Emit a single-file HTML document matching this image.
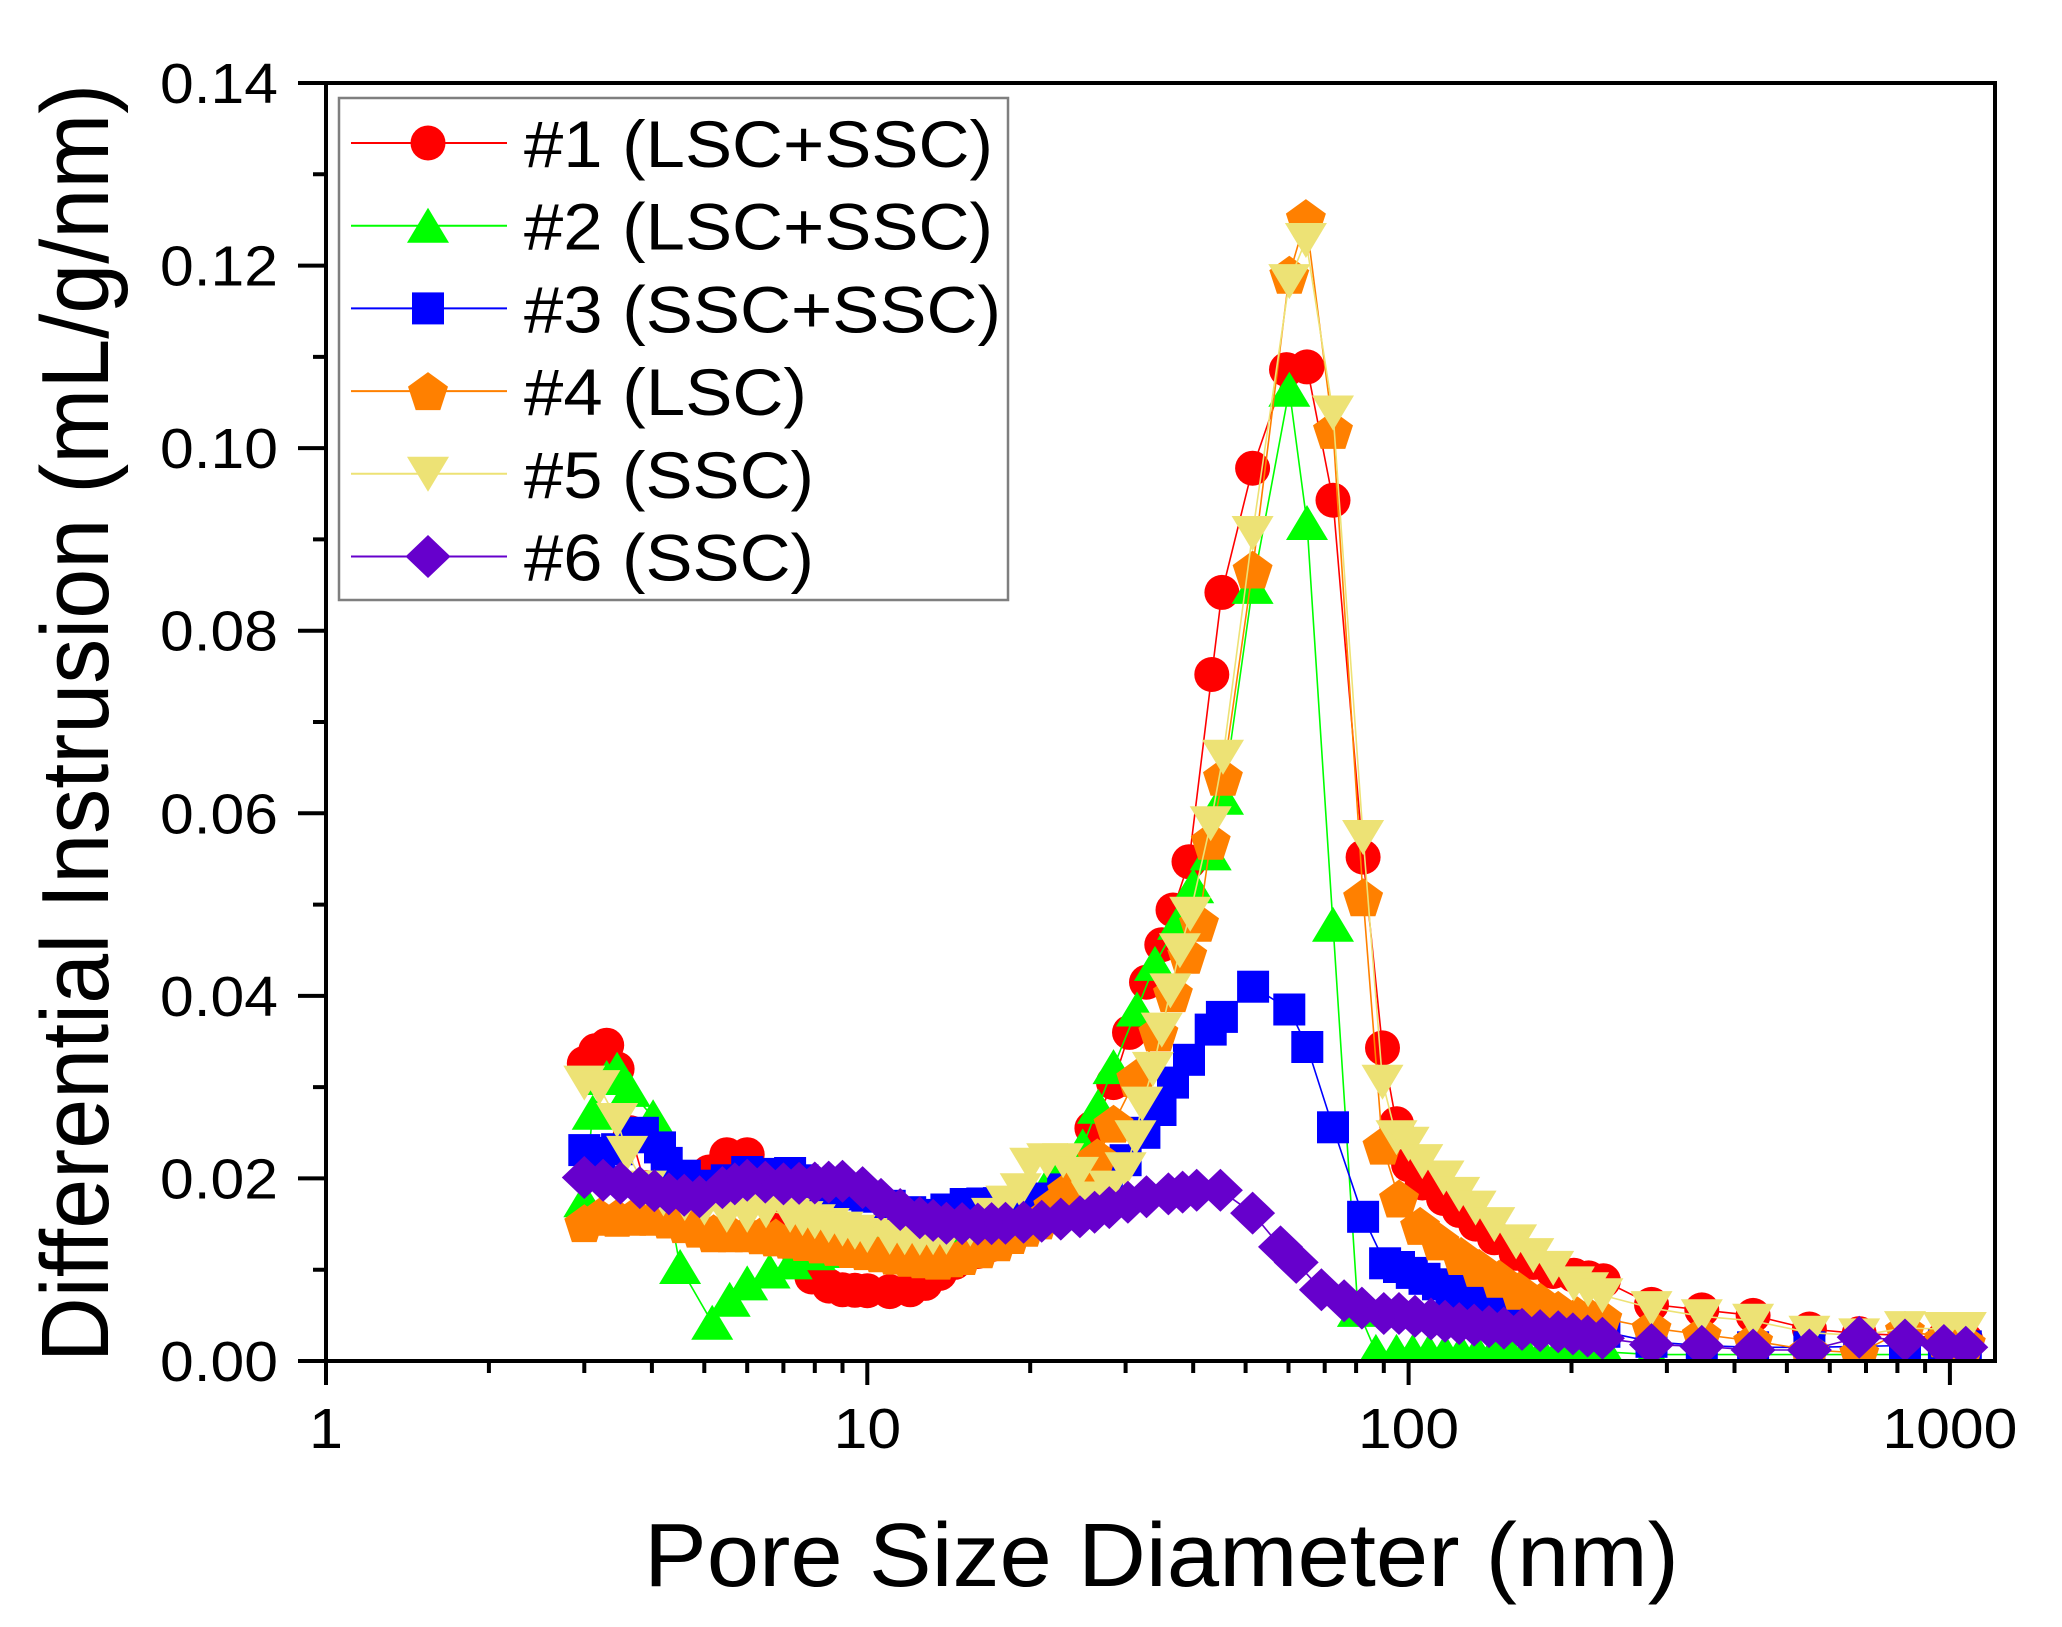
<!DOCTYPE html>
<html><head><meta charset="utf-8"><style>
html,body{margin:0;padding:0;background:#fff;}
svg{display:block;}
text{font-family:"Liberation Sans",Arial,sans-serif;fill:#000;}
</style></head><body>
<svg id="s" width="2062" height="1627" viewBox="0 0 2062 1627" xmlns="http://www.w3.org/2000/svg">
<defs><clipPath id="cp"><rect x="326" y="83" width="1669" height="1278"/></clipPath></defs>
<rect width="2062" height="1627" fill="#fff"/>
<g id="data" clip-path="url(#cp)"></g>

<!-- legend -->
<rect x="339" y="98" width="669" height="502" fill="#fff" stroke="#7f7f7f" stroke-width="2.5"/>
<g id="leg"></g>
<g font-size="66">
<text x="524" y="167" textLength="469" lengthAdjust="spacingAndGlyphs">#1 (LSC+SSC)</text>
<text x="524" y="249.7" textLength="469" lengthAdjust="spacingAndGlyphs">#2 (LSC+SSC)</text>
<text x="524" y="332.4" textLength="477" lengthAdjust="spacingAndGlyphs">#3 (SSC+SSC)</text>
<text x="524" y="415.1" textLength="283" lengthAdjust="spacingAndGlyphs">#4 (LSC)</text>
<text x="524" y="497.8" textLength="290" lengthAdjust="spacingAndGlyphs">#5 (SSC)</text>
<text x="524" y="580.5" textLength="290" lengthAdjust="spacingAndGlyphs">#6 (SSC)</text>
</g>

<!-- axes frame -->
<rect x="326" y="83" width="1669" height="1278" fill="none" stroke="#000" stroke-width="4"/>
<g stroke="#000" stroke-width="4" fill="none">
<path d="M298 1361H326M298 1178.4H326M298 995.9H326M298 813.3H326M298 630.7H326M298 448.1H326M298 265.6H326M298 83H326"/>
<path d="M313 1269.7H326M313 1087.1H326M313 904.6H326M313 722H326M313 539.4H326M313 356.9H326M313 174.3H326"/>
<path d="M326 1361V1385M867.3 1361V1385M1408.6 1361V1385M1949.9 1361V1385"/>
<path d="M488.9 1361V1373M584.3 1361V1373M651.9 1361V1373M704.3 1361V1373M747.2 1361V1373M783.4 1361V1373M814.8 1361V1373M842.5 1361V1373M1030.2 1361V1373M1125.6 1361V1373M1193.2 1361V1373M1245.6 1361V1373M1288.5 1361V1373M1324.7 1361V1373M1356.1 1361V1373M1383.8 1361V1373M1571.5 1361V1373M1666.9 1361V1373M1734.5 1361V1373M1786.9 1361V1373M1829.8 1361V1373M1866 1361V1373M1897.4 1361V1373M1925.1 1361V1373"/>
</g>

<!-- y tick labels -->
<g font-size="57">
<text x="160" y="1381" textLength="118" lengthAdjust="spacingAndGlyphs">0.00</text>
<text x="160" y="1198.4" textLength="118" lengthAdjust="spacingAndGlyphs">0.02</text>
<text x="160" y="1015.9" textLength="118" lengthAdjust="spacingAndGlyphs">0.04</text>
<text x="160" y="833.3" textLength="118" lengthAdjust="spacingAndGlyphs">0.06</text>
<text x="160" y="650.7" textLength="118" lengthAdjust="spacingAndGlyphs">0.08</text>
<text x="160" y="468.1" textLength="118" lengthAdjust="spacingAndGlyphs">0.10</text>
<text x="160" y="285.6" textLength="118" lengthAdjust="spacingAndGlyphs">0.12</text>
<text x="160" y="103" textLength="118" lengthAdjust="spacingAndGlyphs">0.14</text>
<!-- x tick labels -->
<text x="309" y="1448" textLength="34" lengthAdjust="spacingAndGlyphs">1</text>
<text x="833.6" y="1448" textLength="67.5" lengthAdjust="spacingAndGlyphs">10</text>
<text x="1358" y="1448" textLength="101" lengthAdjust="spacingAndGlyphs">100</text>
<text x="1882.4" y="1448" textLength="135" lengthAdjust="spacingAndGlyphs">1000</text>
</g>

<!-- axis titles -->
<text x="644" y="1586" font-size="90" textLength="1035" lengthAdjust="spacingAndGlyphs">Pore Size Diameter (nm)</text>
<text transform="translate(108,723) scale(1.06,1) rotate(-90)" x="0" y="0" font-size="90" text-anchor="middle">Differential Instrusion (mL/g/nm)</text>
</svg>
<script>
(function(){
function X(v){return 326+541.3*Math.log10(v);}
function Y(v){return 1361-9128.6*v;}
function f(n){return n.toFixed(1);}
function shape(t,cx,cy,c){
  switch(t){
    case 'c': return '<circle cx="'+f(cx)+'" cy="'+f(cy)+'" r="17.5" fill="'+c+'"/>';
    case 'tu': return '<polygon points="'+f(cx)+','+f(cy-18)+' '+f(cx+21)+','+f(cy+17)+' '+f(cx-21)+','+f(cy+17)+'" fill="'+c+'"/>';
    case 's': return '<rect x="'+f(cx-16)+'" y="'+f(cy-16)+'" width="32" height="32" fill="'+c+'"/>';
    case 'p': {
      var R=21,p=[];
      for(var k=0;k<5;k++){var a=(-90+72*k)*Math.PI/180;p.push(f(cx+R*Math.cos(a))+','+f(cy+2+R*Math.sin(a)));}
      return '<polygon points="'+p.join(' ')+'" fill="'+c+'"/>';
    }
    case 'td': return '<polygon points="'+f(cx-21)+','+f(cy-17)+' '+f(cx+21)+','+f(cy-17)+' '+f(cx)+','+f(cy+18)+'" fill="'+c+'"/>';
    case 'd': return '<polygon points="'+f(cx)+','+f(cy-21.5)+' '+f(cx+22.5)+','+f(cy)+' '+f(cx)+','+f(cy+21.5)+' '+f(cx-22.5)+','+f(cy)+'" fill="'+c+'"/>';
  }
  return '';
}
function build(anch,ranges){
  var out=[];
  function both(a,b){return ranges.some(function(r){return a>=r[0]&&a<=r[1]&&b>=r[0]&&b<=r[1];});}
  for(var i=0;i<anch.length;i++){
    out.push(anch[i]);
    if(i<anch.length-1){
      var a=anch[i],b=anch[i+1];
      if(both(a[0],b[0])){
        var la=Math.log10(a[0]),lb=Math.log10(b[0]);
        var n=Math.round((lb-la)/0.03)-1;
        for(var k=1;k<=n;k++){var t=k/(n+1);out.push([Math.pow(10,la+t*(lb-la)),a[1]+t*(b[1]-a[1])]);}
      }
    }
  }
  return out;
}
var DEF=[[2.9,41],[94,235]];
var series=[
 {c:'#FF0000',t:'c',r:DEF,d:[[3.0,0.0326],[3.15,0.034],[3.3,0.0346],[3.45,0.032],[3.65,0.025],[3.9,0.019],[4.2,0.0158],[4.5,0.016],[4.8,0.0185],[5.1,0.0207],[5.5,0.0226],[6.0,0.0226],[6.5,0.0195],[6.9,0.0158],[7.5,0.0115],[7.9,0.0092],[8.5,0.0082],[9.0,0.0078],[10,0.0077],[11,0.0076],[12,0.0078],[12.8,0.0085],[13.6,0.0096],[14.5,0.0108],[16,0.012],[18,0.0135],[20,0.0155],[22,0.018],[24,0.0212],[26,0.0255],[28.5,0.0305],[30.5,0.036],[32.8,0.0415],[35,0.0456],[36.7,0.0494],[39.3,0.0547],[43.3,0.0752],[45.2,0.0842],[51.5,0.0978],[59.5,0.1086],[64.9,0.1089],[72.5,0.0943],[82.4,0.0552],[89.5,0.0343],[95,0.026],[100,0.0215],[106,0.0195],[116,0.0178],[124,0.0165],[133,0.015],[144,0.0135],[158,0.0118],[170,0.0108],[185,0.0098],[202,0.0094],[229,0.0088],[281,0.0062],[348,0.0056],[433,0.005],[550,0.0035],[680,0.003],[826,0.0028],[975,0.0025],[1070,0.0023]]},
 {c:'#00FF00',t:'tu',r:[[6.5,41],[86,235]],d:[[3.0,0.0176],[3.11,0.0272],[3.3,0.031],[3.45,0.0319],[3.64,0.0297],[4.02,0.0267],[4.51,0.0103],[5.17,0.0042],[5.57,0.0067],[6.0,0.0085],[6.6,0.0098],[7.25,0.0108],[8,0.0118],[9,0.0123],[10,0.0125],[12,0.013],[14,0.0138],[16,0.015],[18,0.0165],[20,0.018],[22,0.0203],[25,0.0235],[28.5,0.0322],[31.5,0.0385],[34,0.0435],[37.5,0.048],[40,0.052],[43.1,0.0556],[45.4,0.0617],[51.5,0.0848],[60.2,0.1064],[64.9,0.0918],[72.5,0.0478],[80.6,0.0056],[87,0.001],[95,0.001],[232,0.001],[281,0.0007],[348,0.0007],[433,0.0007],[550,0.0007],[680,0.0007],[826,0.0007],[975,0.0007],[1070,0.0007]]},
 {c:'#0000FF',t:'s',r:DEF,d:[[3.0,0.0231],[3.2,0.0228],[3.45,0.0232],[3.65,0.0245],[3.85,0.025],[4.14,0.0234],[4.26,0.0217],[4.6,0.0203],[5.0,0.0192],[5.5,0.0198],[6.0,0.0207],[6.5,0.0205],[7.2,0.0206],[8,0.019],[9,0.0185],[10,0.018],[11,0.017],[12,0.0163],[13,0.016],[14,0.0166],[15.2,0.0172],[17.5,0.0173],[19,0.0172],[21,0.0178],[23,0.0188],[25.8,0.019],[27.7,0.0195],[30,0.022],[32.5,0.025],[34.8,0.0275],[36.7,0.0305],[39.3,0.033],[43.1,0.0363],[45.2,0.0377],[51.6,0.041],[60.2,0.0385],[65,0.0344],[72.5,0.0256],[82.4,0.0158],[90.5,0.0107],[96,0.0103],[107,0.009],[120,0.0078],[135,0.0068],[150,0.006],[170,0.0053],[190,0.0047],[205,0.0043],[230,0.0032],[281,0.0021],[348,0.0017],[433,0.0015],[550,0.0015],[680,0.0016],[826,0.0017],[975,0.0017],[1070,0.0016]]},
 {c:'#FF8000',t:'p',r:DEF,d:[[3.0,0.0151],[3.2,0.0158],[3.45,0.0157],[3.7,0.0158],[4.0,0.0158],[4.3,0.0155],[4.6,0.015],[5.2,0.014],[6.0,0.014],[7.2,0.0133],[8.8,0.0125],[10.6,0.0118],[12,0.0113],[13.5,0.011],[15,0.0115],[17.4,0.013],[20.8,0.0154],[23.4,0.0187],[26.6,0.0223],[28.5,0.026],[31.4,0.031],[34.5,0.036],[36.7,0.0403],[39,0.0445],[41,0.048],[43.1,0.057],[45.4,0.064],[51.5,0.0867],[60.2,0.119],[64.6,0.1252],[72.5,0.102],[82.4,0.0508],[89.5,0.0236],[96,0.0178],[105,0.0148],[114,0.0131],[125,0.0115],[135,0.0102],[147,0.009],[160,0.0077],[175,0.0065],[189,0.0056],[205,0.005],[228,0.0047],[281,0.0036],[348,0.0029],[433,0.0022],[550,0.0012],[680,0.0009],[826,0.0034],[975,0.0025],[1070,0.002]]},
 {c:'#EDE275',t:'td',r:DEF,d:[[3.0,0.0305],[3.2,0.030],[3.45,0.0264],[3.6,0.0228],[3.9,0.019],[4.2,0.0178],[4.6,0.0173],[5.0,0.0168],[5.5,0.016],[6.0,0.016],[6.5,0.0165],[7.2,0.016],[8,0.0153],[9,0.0145],[10,0.0138],[11,0.0136],[12.5,0.0135],[14,0.0136],[15.5,0.0145],[17,0.016],[19.2,0.0187],[20,0.0215],[21.5,0.022],[23,0.022],[24.5,0.0205],[26,0.0178],[28,0.019],[30,0.021],[31.3,0.0245],[32.2,0.0282],[33.7,0.032],[35,0.0363],[36.3,0.0406],[37.8,0.045],[39.5,0.049],[43.1,0.0589],[45.4,0.0662],[51.5,0.0907],[60.2,0.1183],[64.6,0.1228],[72.5,0.1039],[82.4,0.0574],[89.5,0.0306],[95,0.0245],[100,0.0238],[106,0.0219],[116,0.0201],[124,0.0183],[133,0.0168],[144,0.015],[158,0.0131],[170,0.0116],[185,0.0102],[202,0.0085],[228,0.0072],[281,0.0058],[348,0.0049],[433,0.0044],[550,0.0031],[680,0.0028],[826,0.0036],[975,0.0035],[1070,0.0035]]},
 {c:'#6600CC',t:'d',r:DEF,d:[[3.0,0.0201],[3.25,0.0198],[3.5,0.0195],[3.8,0.019],[4.3,0.0183],[4.9,0.018],[5.4,0.019],[6.0,0.0198],[7.0,0.0194],[8.0,0.0195],[9,0.0197],[9.8,0.019],[10.6,0.0177],[11.5,0.0166],[12.5,0.0157],[14,0.0151],[16,0.015],[18,0.0151],[21,0.0153],[24.7,0.0158],[28,0.0168],[32.8,0.018],[36,0.0183],[40.6,0.0187],[44.9,0.0187],[51.5,0.0162],[58,0.0125],[62,0.0108],[69,0.0078],[76,0.0066],[82,0.0058],[90,0.0052],[96,0.0052],[110,0.0046],[124,0.0041],[150,0.0036],[189,0.0032],[228,0.0025],[281,0.0018],[348,0.0016],[433,0.0012],[550,0.0012],[680,0.0026],[826,0.0023],[975,0.0017],[1070,0.0015]]}
];
var html='';
series.forEach(function(s){
  var pts=build(s.d,s.r);
  html+='<polyline fill="none" stroke="'+s.c+'" stroke-width="1.6" points="'+pts.map(function(p){return f(X(p[0]))+','+f(Y(p[1]));}).join(' ')+'"/>';
  pts.forEach(function(p){html+=shape(s.t,X(p[0]),Y(p[1]),s.c);});
});
document.getElementById('data').innerHTML=html;
var lg='';
series.forEach(function(s,i){
  var y=143+82.7*i;
  lg+='<line x1="351" x2="507" y1="'+f(y)+'" y2="'+f(y)+'" stroke="'+s.c+'" stroke-width="2"/>';
  lg+=shape(s.t,428,y,s.c);
});
document.getElementById('leg').innerHTML=lg;
})();
</script>
</body></html>
